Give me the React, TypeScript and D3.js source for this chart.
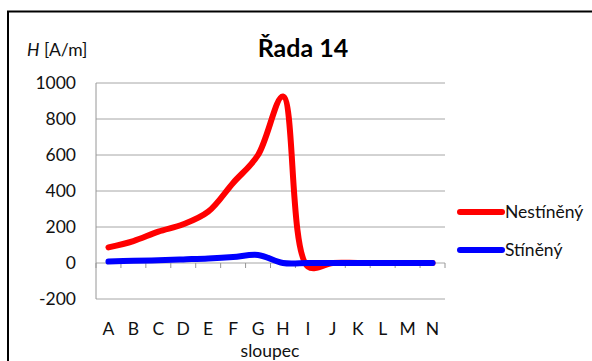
import React from 'react';
import * as d3 from 'd3';

const categories = ['A', 'B', 'C', 'D', 'E', 'F', 'G', 'H', 'I', 'J', 'K', 'L', 'M', 'N'];
const nestineny = [87, 122, 174, 215, 285, 445, 600, 925, -20, 0, 0, 0, 0, 0];
const stineny = [8, 12, 15, 20, 25, 33, 45, 0, 0, 0, 0, 0, 0, 0];
const yTicks = [-200, 0, 200, 400, 600, 800, 1000];
const seriesNames = ['Nestíněný', 'Stíněný'];
const seriesColors = ['#ff0000', '#0000ff'];

const W = 592;
const H = 361;
const plot = { left: 96, right: 445, top: 83, bottom: 299 };
const font = 'Lato, "Noto Sans", sans-serif';

const App: React.FC = () => {
  const x = d3.scaleBand<string>()
    .domain(categories)
    .range([plot.left, plot.right]);
  const y = d3.scaleLinear()
    .domain([-200, 1000])
    .range([plot.bottom, plot.top]);

  const line = d3.line<number>()
    .x((_, i) => (x(categories[i]) as number) + x.bandwidth() / 2)
    .y(d => y(d))
    .curve(d3.curveCatmullRom.alpha(0.5));

  const series = [nestineny, stineny];
  const tickXs = d3.range(categories.length + 1).map(i => plot.left + i * x.step());

  return (
    <svg width={W} height={H} style={{ position: 'absolute', left: 0, top: 0, background: '#fff' }}>
      {/* chart frame (runs off the picture) */}
      <rect x={8} y={11.5} width={W + 20} height={H + 20} fill="none" stroke="#000" strokeWidth={2} />

      {/* gridlines */}
      {yTicks.map(t => (
        <line key={t} x1={plot.left} x2={plot.right} y1={y(t)} y2={y(t)} stroke="#a6a6a6" strokeWidth={1} />
      ))}
      <line x1={plot.left} x2={plot.left} y1={plot.top} y2={plot.bottom} stroke="#969696" />

      {/* category axis ticks at zero */}
      {tickXs.map((tx, i) => (
        <line key={i} x1={tx} x2={tx} y1={y(0)} y2={y(0) + 5} stroke="#969696" />
      ))}

      {/* y tick labels */}
      {yTicks.map(t => (
        <text key={t} x={76} y={y(t) + 6} textAnchor="end" fontFamily={font} fontSize={17.5} fill="#111">
          {t}
        </text>
      ))}

      {/* x tick labels */}
      {categories.map(c => (
        <text key={c} x={(x(c) as number) + x.bandwidth() / 2} y={335} textAnchor="middle" fontFamily={font} fontSize={17.5} fill="#111">
          {c}
        </text>
      ))}

      <text x={270} y={357} textAnchor="middle" fontFamily={font} fontSize={17.5} fill="#111">sloupec</text>

      <text x={27} y={56} fontFamily={font} fontSize={17.5} fill="#111">
        <tspan fontStyle="italic">H</tspan> [A/m]
      </text>

      <text x={303} y={57} textAnchor="middle" fontFamily={font} fontSize={25} fontWeight="bold" fill="#000">
        Řada 14
      </text>

      {/* series */}
      {series.map((s, i) => (
        <path key={i} d={line(s) || ''} fill="none" stroke={seriesColors[i]} strokeWidth={6} strokeLinecap="round" strokeLinejoin="round" />
      ))}

      {/* legend */}
      {seriesNames.map((n, i) => (
        <g key={n} transform={`translate(0, ${212 + i * 38})`}>
          <line x1={460} x2={502} y1={0} y2={0} stroke={seriesColors[i]} strokeWidth={6} strokeLinecap="round" />
          <text x={505} y={6} fontFamily={font} fontSize={17.5} fill="#111">{n}</text>
        </g>
      ))}
    </svg>
  );
};

export default App;
